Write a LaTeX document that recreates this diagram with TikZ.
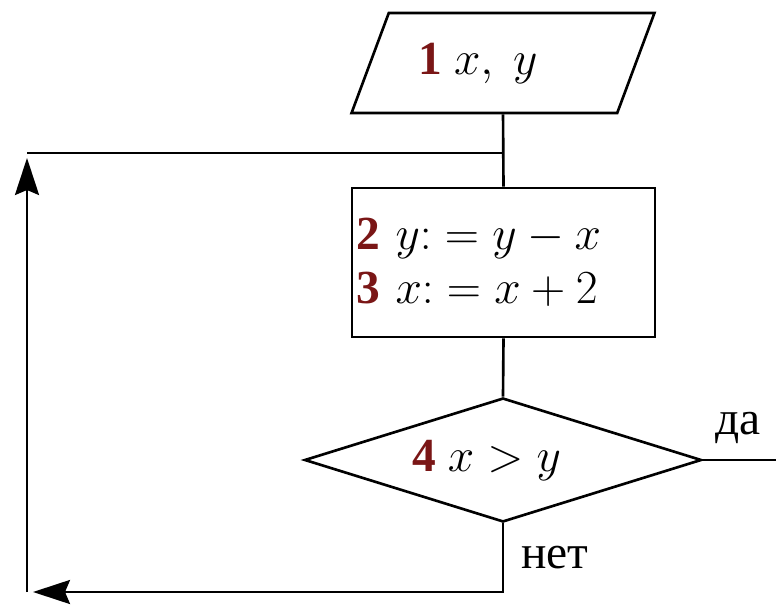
\documentclass[tikz,border=0pt]{standalone}
\usepackage{fix-cm}
\usepackage{fontspec}
\setmainfont{Liberation Serif}
\usetikzlibrary{arrows.meta,positioning,shapes.geometric}
\definecolor{stepred}{RGB}{122,22,22}
\newcommand{\stepno}[1]{\textcolor{stepred}{\textbf{#1}}}
\tikzset{
  blk/.style={draw, line width=1.5pt, fill=white, inner sep=1mm},
  io/.style={blk, trapezium, trapezium left angle=60, trapezium right angle=120, trapezium stretches=true, minimum width=6.06cm, minimum height=2cm},
  proc/.style={blk, rectangle, minimum width=6.06cm, minimum height=2.98cm, text width=5.9cm, align=left, inner sep=0.8mm},
  cond/.style={blk, diamond, aspect=3.2, inner sep=0pt, minimum width=7.94cm, minimum height=2.48cm},
  ln/.style={line width=1.5pt},
  arr/.style={ln, -{Stealth[length=7.4mm, width=4.8mm, inset=1mm]}},
  lbl/.style={font=\fontsize{27}{32}\selectfont, anchor=base}}
\begin{document}
\begin{tikzpicture}[x=0.2mm, y=-0.2mm, font=\fontsize{27}{31}\selectfont]
  \useasboundingbox (0,0) rectangle (776,609);
  \node[io] (inp) at (503,63) {\stepno{1} $x,\ y$\hspace*{1cm}};
  \node[proc] (calc) at (503.5,262.5) {\stepno{2} $y{:} = y - x$\\ \stepno{3} $x{:} = x + 2$};
  \node[cond] (test) at (503,460) {\stepno{4} $x > y$\hspace*{0.65cm}};
  \node[lbl] (yes) at (738,435) {да};
  \node[lbl] (no) at (555,568) {нет};
  \coordinate (join) at (503,153);
  \coordinate (tl) at (27,153);
  \coordinate (bl) at (27,592);
  \coordinate (out) at (776,460);
  \draw[ln] (inp.south) -- (calc.north);
  \draw[ln] (calc.south) -- (test.north);
  \draw[ln] (test.east) -- (out);
  \draw[arr, shorten >=1.2mm] (test.south) |- (bl);
  \draw[arr, shorten >=1mm] (bl) -- (tl);
  \draw[ln] (tl) -- (join);
\end{tikzpicture}
\end{document}
